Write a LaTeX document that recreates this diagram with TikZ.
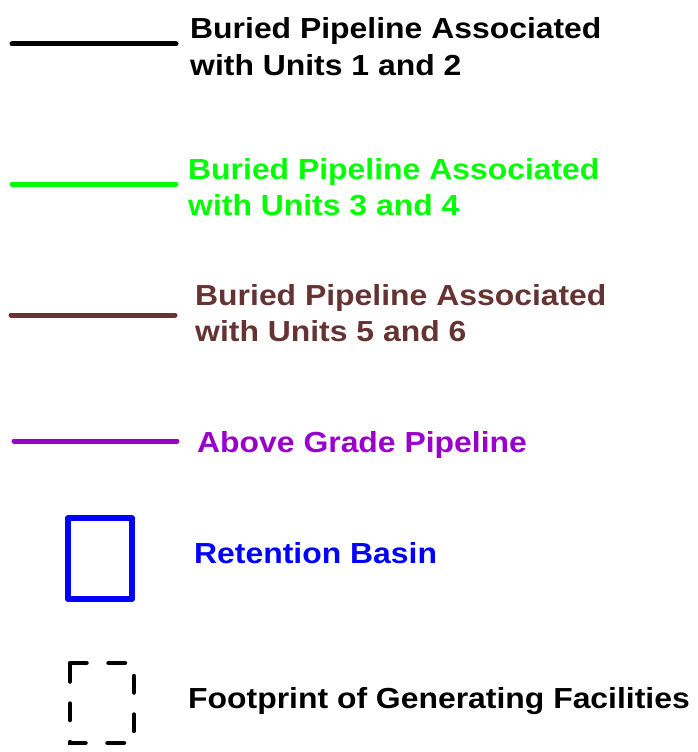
\documentclass[tikz,border=0pt]{standalone}
\usepackage{fontspec}
\setmainfont[FakeStretch=1.1]{Liberation Sans}
\begin{document}
\definecolor{legblack}{HTML}{000000}
\definecolor{leggreen}{HTML}{00FF00}
\definecolor{legbrown}{HTML}{663333}
\definecolor{legpurple}{HTML}{9900CC}
\definecolor{legblue}{HTML}{0000FF}
\begin{tikzpicture}[x=1pt,y=-1pt,
  legline/.style={line width=5pt,line cap=round},
  legtext/.style={anchor=base west,inner sep=0pt,align=left,
    font=\fontsize{29}{36}\selectfont\bfseries}]
\useasboundingbox (0,0) rectangle (697,752);
% pipeline samples
\draw[legline,legblack]  (12,44)  -- (176,44);
\draw[legline,leggreen]  (12,184) -- (176,184);
\draw[legline,legbrown]  (11,315) -- (175,315);
\draw[legline,legpurple] (14,441) -- (177,441);
% retention basin sample
\draw[legblue,line width=6pt,line join=round] (68,518) rectangle (132,599);
% facilities footprint sample
\draw[black,line width=4.5pt,line cap=round,dash pattern=on 16.5pt off 22pt]
  (70,663) -- (134,663) -- (134,743) -- (70,743) -- cycle;
% labels (anchored at the baseline of the last line)
\node[legtext,text=legblack]  (t1) at (190,75)  {Buried Pipeline Associated\\with Units 1 and 2};
\node[legtext,text=leggreen]  (t2) at (188,215) {Buried Pipeline Associated\\with Units 3 and 4};
\node[legtext,text=legbrown]  (t3) at (195,341) {Buried Pipeline Associated\\with Units 5 and 6};
\node[legtext,text=legpurple] (t4) at (197,452) {Above Grade Pipeline};
\node[legtext,text=legblue]   (t5) at (194,563) {Retention Basin};
\node[legtext,text=legblack]  (t6) at (188,708) {Footprint of Generating Facilities};
\end{tikzpicture}
\end{document}
